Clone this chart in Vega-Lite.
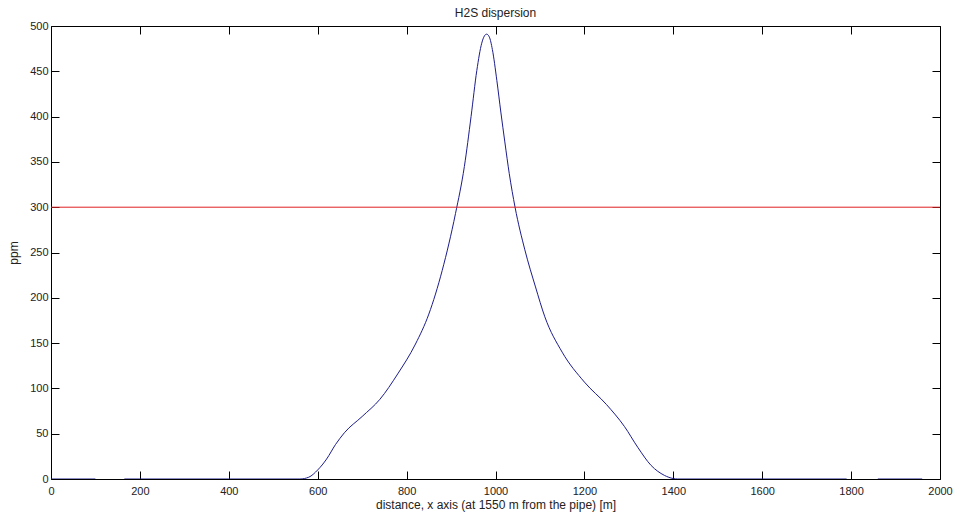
{
  "$schema": "https://vega.github.io/schema/vega-lite/v6.json",
  "autosize": {"type": "none"},
  "width": 889,
  "height": 453,
  "padding": {"left": 51, "top": 26, "right": 14, "bottom": 38},
  "background": "white",
  "title": {"text": "H2S dispersion", "fontSize": 12, "fontWeight": "normal", "font": "Liberation Sans", "color": "#222222", "offset": 0, "anchor": "middle"},
  "config": {
    "view": {"stroke": null},
    "axis": {"grid": false, "domainColor": "#000000", "tickColor": "#000000", "labelFont": "Liberation Sans", "labelFontSize": 11, "labelColor": "#222222", "titleFont": "Liberation Sans", "titleFontSize": 12, "titleFontWeight": "normal", "titleColor": "#222222", "tickSize": -8, "domainWidth": 1, "format": "d"}
  },
  "datasets": {
    "curve": [
      {"x": 0, "y": 0, "seg": "a"}, {"x": 100, "y": 0, "seg": "a"},
      {"x": 165, "y": 0, "seg": "b"}, {"x": 400, "y": 0, "seg": "b"}, {"x": 560, "y": 0, "seg": "b"},
      {"x": 580, "y": 2, "seg": "b"}, {"x": 600, "y": 10, "seg": "b"}, {"x": 620, "y": 22, "seg": "b"},
      {"x": 640, "y": 38, "seg": "b"}, {"x": 660, "y": 51, "seg": "b"}, {"x": 700, "y": 69, "seg": "b"},
      {"x": 740, "y": 88, "seg": "b"}, {"x": 780, "y": 116, "seg": "b"}, {"x": 820, "y": 149, "seg": "b"},
      {"x": 850, "y": 182, "seg": "b"}, {"x": 880, "y": 230, "seg": "b"}, {"x": 910, "y": 293, "seg": "b"},
      {"x": 930, "y": 345, "seg": "b"}, {"x": 945, "y": 400, "seg": "b"}, {"x": 958, "y": 451, "seg": "b"},
      {"x": 969, "y": 481, "seg": "b"}, {"x": 975, "y": 489, "seg": "b"}, {"x": 980, "y": 491, "seg": "b"},
      {"x": 986, "y": 488, "seg": "b"}, {"x": 993, "y": 474, "seg": "b"}, {"x": 1003, "y": 440, "seg": "b"},
      {"x": 1012, "y": 405, "seg": "b"}, {"x": 1021, "y": 372, "seg": "b"}, {"x": 1031, "y": 337, "seg": "b"},
      {"x": 1044, "y": 300, "seg": "b"}, {"x": 1066, "y": 253, "seg": "b"}, {"x": 1090, "y": 212, "seg": "b"},
      {"x": 1111, "y": 179, "seg": "b"}, {"x": 1150, "y": 140, "seg": "b"}, {"x": 1200, "y": 107, "seg": "b"},
      {"x": 1250, "y": 82, "seg": "b"}, {"x": 1290, "y": 58, "seg": "b"}, {"x": 1320, "y": 35, "seg": "b"},
      {"x": 1350, "y": 15, "seg": "b"}, {"x": 1380, "y": 4, "seg": "b"}, {"x": 1400, "y": 0.5, "seg": "b"},
      {"x": 1410, "y": 0, "seg": "b"}, {"x": 1790, "y": 0, "seg": "b"},
      {"x": 1860, "y": 0, "seg": "c"}, {"x": 1960, "y": 0, "seg": "c"}
    ],
    "limit": [{"y": 300}]
  },
  "resolve": {"axis": {"x": "independent", "y": "independent"}},
  "layer": [
    {
      "data": {"name": "curve"},
      "mark": {"type": "line", "color": "#1c1c8c", "strokeWidth": 1, "clip": true, "interpolate": "monotone"},
      "encoding": {
        "x": {"field": "x", "type": "quantitative", "scale": {"domain": [0, 2000], "nice": false, "zero": false},
              "axis": {"orient": "bottom", "values": [0,200,400,600,800,1000,1200,1400,1600,1800,2000], "title": "distance, x axis (at 1550 m from the pipe) [m]", "labelPadding": 14, "titlePadding": 3, "labelFlush": false}},
        "y": {"field": "y", "type": "quantitative", "scale": {"domain": [0, 500], "nice": false},
              "axis": {"orient": "left", "values": [0,50,100,150,200,250,300,350,400,450,500], "title": "ppm", "labelPadding": 11, "titlePadding": 9, "labelFlush": false}},
        "detail": {"field": "seg", "type": "nominal"}
      }
    },
    {
      "data": {"name": "curve"},
      "mark": {"type": "point", "opacity": 0},
      "encoding": {
        "x": {"field": "x", "type": "quantitative", "scale": {"domain": [0, 2000], "nice": false, "zero": false},
              "axis": {"orient": "top", "values": [0,200,400,600,800,1000,1200,1400,1600,1800,2000], "labels": false, "title": null}},
        "y": {"field": "y", "type": "quantitative", "scale": {"domain": [0, 500], "nice": false},
              "axis": {"orient": "right", "values": [0,50,100,150,200,250,300,350,400,450,500], "labels": false, "title": null}}
      }
    },
    {
      "data": {"name": "limit"},
      "mark": {"type": "rule", "color": "#e02020", "strokeWidth": 1},
      "encoding": {
        "y": {"field": "y", "type": "quantitative", "axis": null}
      }
    }
  ]
}
